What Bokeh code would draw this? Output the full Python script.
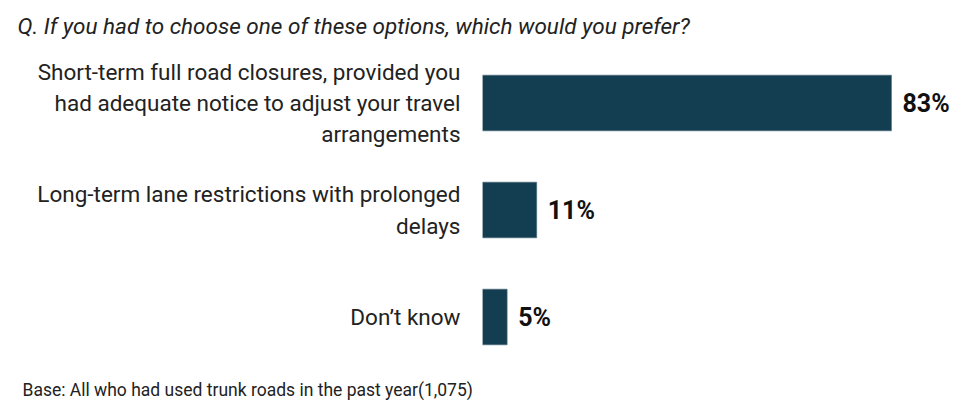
from bokeh.plotting import figure
from bokeh.models import ColumnDataSource, Title, Range1d, FactorRange
from bokeh.core.properties import value
from bokeh.embed import file_html
from bokeh.resources import INLINE

categories = [
    "Short-term full road closures, provided you\nhad adequate notice to adjust your travel\narrangements",
    "Long-term lane restrictions with prolonged\ndelays",
    "Don\u2019t know",
]
values = [83, 11, 5]
value_labels = ["83%", "11%", "5%"]

title_text = "Q. If you had to choose one of these options, which would you prefer?"
footer_text = "Base: All who had used trunk roads in the past year(1,075)"

BAR = "#133d51"
FONT = "Roboto"

src = ColumnDataSource(dict(cat=categories, val=values, lab=value_labels))

p = figure(
    width=966, height=406,
    y_range=FactorRange(*categories[::-1]),
    x_range=Range1d(0, 96),
    output_backend="svg", toolbar_location=None,
    min_border_left=482, min_border_right=11,
    min_border_top=47, min_border_bottom=35,
)
p.hbar(y="cat", right="val", height=0.52, source=src,
       fill_color=BAR, line_color="#4d6b7a", line_width=0.6)
p.text(x="val", y="cat", text="lab", source=src, x_offset=11,
       text_baseline="middle", text_align="left",
       text_font=value(FONT), text_font_size="25px", text_font_style="bold",
       text_color="#111111")

p.title.text = title_text
p.title.text_font = FONT
p.title.text_font_style = "italic"
p.title.text_font_size = "22.5px"
p.title.text_color = "#222222"
p.title.align = "left"
p.title.offset = -465
p.title.standoff = 21

foot = Title(text=footer_text, text_font=FONT, text_font_size="17.5px",
             text_font_style="normal", text_color="#222222", align="left",
             offset=-460, standoff=14)
p.add_layout(foot, "below")

p.xaxis.visible = False
p.yaxis.axis_line_color = None
p.yaxis.major_tick_line_color = None
p.yaxis.minor_tick_line_color = None
p.yaxis.major_label_text_font = FONT
p.yaxis.major_label_text_font_size = "22.5px"
p.yaxis.major_label_text_color = "#222222"
p.yaxis.major_label_standoff = 16
p.grid.visible = False
p.outline_line_color = None
p.background_fill_color = "white"
p.border_fill_color = "white"

open("out.html", "w").write(file_html(p, INLINE))
